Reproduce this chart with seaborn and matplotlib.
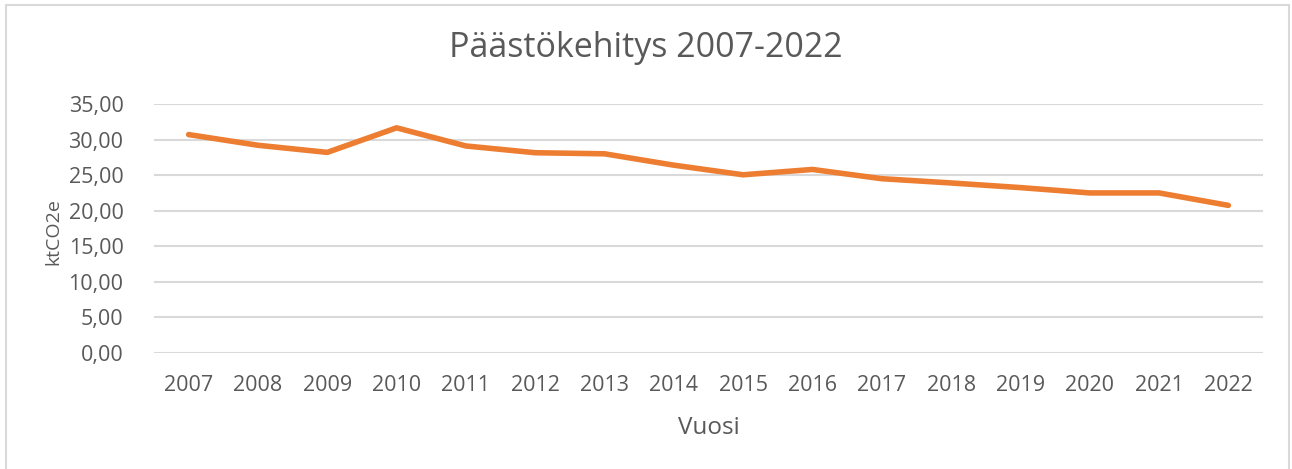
import matplotlib
matplotlib.use("Agg")
import matplotlib.pyplot as plt
import matplotlib.ticker as mticker
from matplotlib.patches import Rectangle
import seaborn as sns
import pandas as pd

# Päästöt vuosittain (ktCO2e), luettu kuvasta
years = [2007, 2008, 2009, 2010, 2011, 2012, 2013, 2014,
         2015, 2016, 2017, 2018, 2019, 2020, 2021, 2022]
emissions = [30.7, 29.2, 28.2, 31.65, 29.1, 28.15, 28.0, 26.4,
             25.05, 25.8, 24.5, 23.9, 23.25, 22.5, 22.5, 20.75]

TEXT = "#595959"
GRID = "#D9D9D9"
ORANGE = "#ED7D31"

sns.set_style("white")
plt.rcParams['font.family'] = ['Open Sans', 'DejaVu Sans']

df = pd.DataFrame({"Vuosi": years, "ktCO2e": emissions})

fig = plt.figure(figsize=(12.92, 4.69), dpi=100)
ax = fig.add_axes([154 / 1292, 1 - 353 / 469, (1263 - 154) / 1292, (353 - 104) / 469])

sns.lineplot(data=df, x="Vuosi", y="ktCO2e", ax=ax, color=ORANGE,
             linewidth=4, solid_capstyle="round", solid_joinstyle="round")

ax.set_xlim(years[0] - 0.5, years[-1] + 0.5)
ax.set_ylim(0, 35)
ax.set_xticks(years)
ax.set_xticklabels([str(y) for y in years])
ax.yaxis.set_major_locator(mticker.MultipleLocator(5))
ax.yaxis.set_major_formatter(
    mticker.FuncFormatter(lambda v, _: "{:.2f}".format(v).replace(".", ",")))

# vaakasuorat apuviivat
ax.grid(axis="y", color=GRID, linewidth=1.5)
ax.grid(axis="x", visible=False)
ax.set_axisbelow(True)
for s in ax.spines.values():
    s.set_visible(False)

ax.tick_params(axis="both", length=0, labelsize=15.5, colors=TEXT)
ax.tick_params(axis="y", pad=22)
ax.tick_params(axis="x", pad=16)

ax.set_xlabel("Vuosi", fontsize=17.5, color=TEXT, labelpad=14)
ax.set_ylabel("ktCO2e", fontsize=14, color=TEXT)
ax.yaxis.set_label_coords(62 / 1292, 1 - 232 / 469, transform=fig.transFigure)

# otsikko keskitetään koko kuvaan
fig.text(0.5, 1 - 48 / 469, "Päästökehitys 2007-2022", fontsize=24.5,
         color=TEXT, ha="center", va="center")

# kaavion reunus
fig.patches.append(Rectangle((6 / 1292, -0.01), (1289 - 6) / 1292, 1 - 5 / 469 + 0.01,
                             transform=fig.transFigure, fill=False,
                             edgecolor=GRID, linewidth=1.5))

fig.savefig("out.png", dpi=100)
